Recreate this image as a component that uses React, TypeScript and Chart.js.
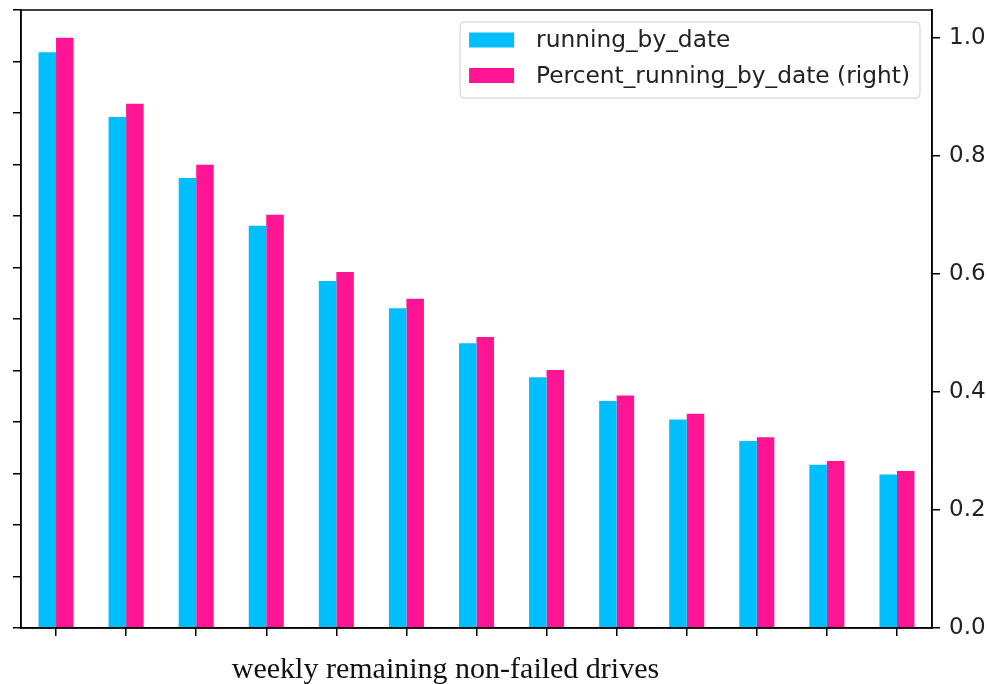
import React, { useEffect, useRef } from "react";
import { Chart, registerables } from "chart.js";

Chart.register(...registerables);

const categories = ["W1", "W2", "W3", "W4", "W5", "W6", "W7", "W8", "W9", "W10", "W11", "W12", "W13"];
const runningByDate = [11180, 9920, 8740, 7810, 6740, 6210, 5530, 4870, 4410, 4050, 3630, 3170, 2980];
const percentRunningByDate = [1.0, 0.888, 0.785, 0.7, 0.603, 0.558, 0.493, 0.437, 0.394, 0.363, 0.323, 0.283, 0.266];
const seriesLabels = ["running_by_date", "Percent_running_by_date (right)"];
const rightTicks = [0.0, 0.2, 0.4, 0.6, 0.8, 1.0];
const xTitle = "weekly remaining non-failed drives";

const BLUE = "#00BFFF";
const PINK = "#FF1493";

const framePlugin = {
  id: "frame",
  afterDraw(chart: any) {
    const { ctx, chartArea } = chart;
    ctx.save();
    ctx.strokeStyle = "#000";
    ctx.lineWidth = 1.5;
    ctx.strokeRect(chartArea.left, chartArea.top, chartArea.right - chartArea.left, chartArea.bottom - chartArea.top);

    // legend
    const font = '23.3px "DejaVu Sans"';
    ctx.font = font;
    const labels = chart.data.datasets.map((d: any) => d.label);
    const colors = chart.data.datasets.map((d: any) => d.backgroundColor);
    const maxW = Math.max(...labels.map((l: string) => ctx.measureText(l).width));
    const swW = 45, swH = 15, padL = 9, gap = 22, padR = 10;
    const boxW = padL + swW + gap + maxW + padR;
    const boxH = 76;
    const boxRight = chartArea.right - 12;
    const boxTop = chartArea.top + 12;
    const boxLeft = boxRight - boxW;
    ctx.beginPath();
    const r = 4;
    ctx.moveTo(boxLeft + r, boxTop);
    ctx.lineTo(boxRight - r, boxTop);
    ctx.quadraticCurveTo(boxRight, boxTop, boxRight, boxTop + r);
    ctx.lineTo(boxRight, boxTop + boxH - r);
    ctx.quadraticCurveTo(boxRight, boxTop + boxH, boxRight - r, boxTop + boxH);
    ctx.lineTo(boxLeft + r, boxTop + boxH);
    ctx.quadraticCurveTo(boxLeft, boxTop + boxH, boxLeft, boxTop + boxH - r);
    ctx.lineTo(boxLeft, boxTop + r);
    ctx.quadraticCurveTo(boxLeft, boxTop, boxLeft + r, boxTop);
    ctx.closePath();
    ctx.fillStyle = "rgba(255,255,255,0.8)";
    ctx.fill();
    ctx.strokeStyle = "#cccccc";
    ctx.lineWidth = 1;
    ctx.stroke();
    labels.forEach((l: string, i: number) => {
      const cy = boxTop + 18 + i * 35.5;
      ctx.fillStyle = colors[i];
      ctx.fillRect(boxLeft + padL, cy - swH / 2, swW, swH);
      ctx.fillStyle = "#222";
      ctx.textAlign = "left";
      ctx.textBaseline = "middle";
      ctx.fillText(l, boxLeft + padL + swW + gap, cy + 1);
    });

    // x title
    ctx.font = '30px "Liberation Serif"';
    ctx.fillStyle = "#111";
    ctx.textAlign = "center";
    ctx.textBaseline = "alphabetic";
    ctx.fillText(xTitle, (chartArea.left + chartArea.right) / 2 - 31, chartArea.bottom + 50);
    ctx.restore();
  },
};

export default function App() {
  const ref = useRef<HTMLCanvasElement | null>(null);
  useEffect(() => {
    if (!ref.current) return;
    const chart = new Chart(ref.current, {
      type: "bar",
      data: {
        labels: categories,
        datasets: [
          {
            label: seriesLabels[0],
            data: runningByDate,
            backgroundColor: BLUE,
            yAxisID: "y",
            categoryPercentage: 0.5,
            barPercentage: 1.0,
          },
          {
            label: seriesLabels[1],
            data: percentRunningByDate,
            backgroundColor: PINK,
            yAxisID: "y1",
            categoryPercentage: 0.5,
            barPercentage: 1.0,
          },
        ],
      },
      options: {
        responsive: false,
        animation: false,
        devicePixelRatio: 1,
        layout: { padding: { top: 10, left: 0, right: 0, bottom: 0 } },
        plugins: { legend: { display: false }, tooltip: { enabled: false }, title: { display: false } },
        scales: {
          x: {
            grid: { display: true, offset: false, drawOnChartArea: false, drawTicks: true, tickLength: 8, color: "#000", lineWidth: 1.5 },
            border: { display: true, color: "#000", width: 1.5 },
            ticks: { display: false },
            afterFit: (s: any) => { s.height = 56; s.paddingLeft = 0; s.paddingRight = 0; },
          },
          y: {
            position: "left",
            min: 0,
            max: 12000,
            ticks: { stepSize: 1000, display: false },
            grid: { display: true, drawOnChartArea: false, drawTicks: true, tickLength: 8, color: "#000", lineWidth: 1.5 },
            border: { display: true, color: "#000", width: 1.5 },
            afterFit: (s: any) => { s.width = 21; s.paddingTop = 0; s.paddingBottom = 0; },
          },
          y1: {
            position: "right",
            min: 0,
            max: 1.047,
            afterBuildTicks: (s: any) => { s.ticks = rightTicks.map((v) => ({ value: v })); },
            ticks: {
              padding: 9,
              color: "#222",
              font: { family: "DejaVu Sans", size: 23 },
              callback: (v: any) => Number(v).toFixed(1),
            },
            grid: { display: true, drawOnChartArea: false, drawTicks: true, tickLength: 8, color: "#000", lineWidth: 1.5 },
            border: { display: true, color: "#000", width: 1.5 },
            afterFit: (s: any) => { s.width = 55; s.paddingTop = 0; s.paddingBottom = 0; },
          },
        },
      },
      plugins: [framePlugin],
    } as any);
    return () => chart.destroy();
  }, []);
  return (
    <div style={{ position: "absolute", left: 0, top: 0, width: 987, height: 684, background: "#fff" }}>
      <canvas ref={ref} width={987} height={684} style={{ width: 987, height: 684, display: "block" }} />
    </div>
  );
}
